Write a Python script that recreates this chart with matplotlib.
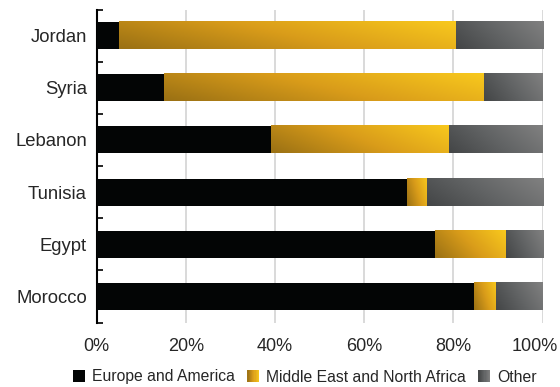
import matplotlib
matplotlib.use("Agg")
import matplotlib.pyplot as plt
import matplotlib.transforms as mtransforms
import numpy as np
from matplotlib.colors import LinearSegmentedColormap
from matplotlib.legend_handler import HandlerBase
from matplotlib.patches import Rectangle

plt.rcParams["font.family"] = ["Liberation Sans", "DejaVu Sans"]

countries = ["Jordan", "Syria", "Lebanon", "Tunisia", "Egypt", "Morocco"]
europe_america = [5.0, 15.2, 39.0, 69.5, 75.8, 84.5]
mena = [75.5, 71.6, 40.0, 4.5, 15.9, 5.0]
other = [19.5, 13.2, 21.0, 26.0, 8.3, 10.5]

series_names = ["Europe and America", "Middle East and North Africa", "Other"]

BLACK = "#030505"
gold_cmap = LinearSegmentedColormap.from_list(
    "gold", ["#9b7114", "#d99c1a", "#f8c81d"])
gray_cmap = LinearSegmentedColormap.from_list(
    "grey", ["#444647", "#626465", "#808080"])

TEXT = "#262626"


def gradient_bar(ax, left, width, y, height, cmap):
    """Fill a bar segment with a diagonal gradient (dark lower-left -> bright right)."""
    if width <= 0:
        return
    u = np.linspace(0, 1, 64)
    v = np.linspace(0, 1, 16)
    U, V = np.meshgrid(u, v)
    t = (U + 0.35 * V) / 1.35
    ax.imshow(t, cmap=cmap, vmin=0, vmax=1, origin="lower", aspect="auto",
              interpolation="bilinear",
              extent=(left, left + width, y - height / 2, y + height / 2),
              zorder=3)


class GradientHandler(HandlerBase):
    def __init__(self, cmap):
        super().__init__()
        self.cmap = cmap

    def create_artists(self, legend, orig_handle, xdescent, ydescent,
                       width, height, fontsize, trans):
        n = 10
        arts = []
        for i in range(n):
            c = self.cmap((i + 0.5) / n)
            r = Rectangle((-xdescent + i * width / n, -ydescent), width / n * 1.05,
                          height, facecolor=c, edgecolor="none", transform=trans)
            arts.append(r)
        return arts


fig = plt.figure(figsize=(5.6, 3.87), dpi=100)
ax = fig.add_axes([96.5 / 560, 1 - 322.5 / 387, (542.7 - 96.5) / 560, (322.5 - 9.5) / 387])

n = len(countries)
ypos = np.arange(n)[::-1]  # Jordan on top
bar_h = 0.52

for y, e, m, o in zip(ypos, europe_america, mena, other):
    ax.barh(y, e, height=bar_h, left=0, color=BLACK, zorder=3)
    gradient_bar(ax, e, m, y, bar_h, gold_cmap)
    gradient_bar(ax, e + m, o, y, bar_h, gray_cmap)

ax.set_xlim(0, 100)
ax.set_ylim(-0.5, n - 0.5)

ax.set_xticks(np.arange(0, 101, 20))
ax.set_xticklabels([f"{v}%" for v in range(0, 101, 20)])
ax.grid(axis="x", color="#d9d9d9", linewidth=1.4, zorder=0)
ax.set_axisbelow(True)

ax.set_yticks(ypos)
ax.set_yticklabels(countries)
ax.set_yticks(np.arange(-0.5, n, 1), minor=True)
ax.tick_params(axis="y", which="major", length=0, pad=7, labelsize=13.3, labelcolor=TEXT)
ax.tick_params(axis="y", which="minor", direction="in", length=4, width=1.2, color="black")
ax.tick_params(axis="x", length=0, pad=11, labelsize=13, labelcolor=TEXT)

# last tick label is pulled in so it stays inside the picture
last = ax.get_xticklabels()[-1]
last.set_transform(last.get_transform() +
                   mtransforms.ScaledTranslation(-7.5 / 100, 0, fig.dpi_scale_trans))

for s in ("top", "right", "bottom"):
    ax.spines[s].set_visible(False)
ax.spines["left"].set_linewidth(1.5)
ax.spines["left"].set_color("black")

h_black = Rectangle((0, 0), 1, 1, facecolor=BLACK)
h_gold = Rectangle((0, 0), 1, 1, facecolor="#d99c1a")
h_gray = Rectangle((0, 0), 1, 1, facecolor="#626465")
fig.legend([h_black, h_gold, h_gray], series_names,
           loc="center", bbox_to_anchor=(305 / 560, 1 - 377 / 387), ncol=3,
           frameon=False, fontsize=11.3, handlelength=0.75, handleheight=0.75,
           handletextpad=0.45, columnspacing=0.8, labelcolor=TEXT,
           handler_map={h_gold: GradientHandler(gold_cmap),
                        h_gray: GradientHandler(gray_cmap)})

fig.savefig("out.png", dpi=100)
